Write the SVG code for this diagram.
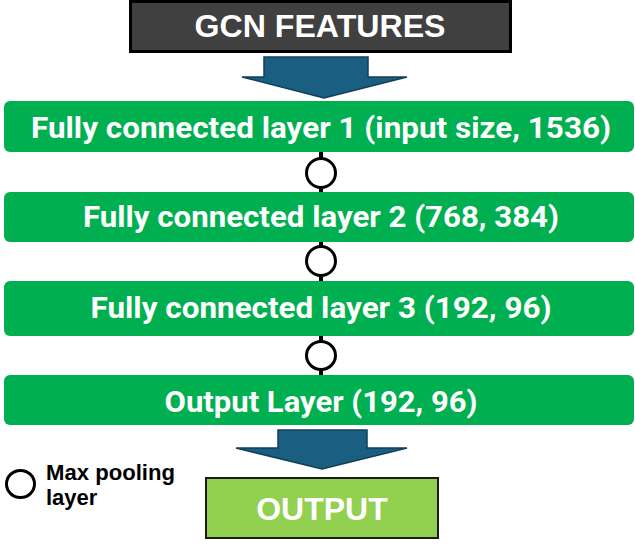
<svg xmlns="http://www.w3.org/2000/svg" width="635" height="545" viewBox="0 0 635 545">
<style>
.layer{fill:#00B050;}
.ltxt{fill:#fff;font-family:Roboto,"Liberation Sans",sans-serif;font-weight:bold;font-size:30px;text-anchor:middle;}
.arrow{fill:#1a5f82;stroke:#123f57;stroke-width:1.5;}
.pool{fill:#fff;stroke:#000;stroke-width:3;}
.stub{stroke:#000;stroke-width:4;}
</style>
<rect width="635" height="545" fill="#fff"/>
<g id="gcn-features">
<rect x="130.5" y="1.5" width="380" height="50" fill="#404040" stroke="#000" stroke-width="3"/>
<text x="320" y="37" fill="#fff" font-family="'Liberation Sans',Arial,sans-serif" font-weight="bold" font-size="31" text-anchor="middle" textLength="251" lengthAdjust="spacingAndGlyphs">GCN FEATURES</text>
</g>
<g id="arrow-in">
<polygon class="arrow" points="264,57 368,57 368,77 407,77 324,98 242,77 264,77"/>
</g>
<g id="fc1">
<rect class="layer" x="4" y="101" width="630" height="51" rx="6"/>
<text class="ltxt" x="321" y="138" textLength="580" lengthAdjust="spacingAndGlyphs">Fully connected layer 1 (input size, 1536)</text>
</g>
<g id="fc2">
<rect class="layer" x="4" y="192" width="630" height="50" rx="6"/>
<text class="ltxt" x="321" y="227" textLength="476" lengthAdjust="spacingAndGlyphs">Fully connected layer 2 (768, 384)</text>
</g>
<g id="fc3">
<rect class="layer" x="4" y="281" width="630" height="55" rx="6"/>
<text class="ltxt" x="321" y="318" textLength="461" lengthAdjust="spacingAndGlyphs">Fully connected layer 3 (192, 96)</text>
</g>
<g id="out-layer">
<rect class="layer" x="4" y="375" width="630" height="50" rx="6"/>
<text class="ltxt" x="321" y="412" textLength="313" lengthAdjust="spacingAndGlyphs">Output Layer (192, 96)</text>
</g>
<g id="connectors">
<line class="stub" x1="321" y1="152" x2="321" y2="159"/>
<line class="stub" x1="321" y1="187" x2="321" y2="192"/>
<line class="stub" x1="321" y1="242" x2="321" y2="247"/>
<line class="stub" x1="321" y1="275" x2="321" y2="281"/>
<line class="stub" x1="321" y1="336" x2="321" y2="342"/>
<line class="stub" x1="321" y1="369" x2="321" y2="375"/>
</g>
<g id="pool1"><ellipse class="pool" cx="321" cy="173" rx="14.5" ry="14.5"/></g>
<g id="pool2"><ellipse class="pool" cx="321" cy="261" rx="14.5" ry="14.5"/></g>
<g id="pool3"><ellipse class="pool" cx="321" cy="355.5" rx="14.5" ry="14"/></g>
<g id="arrow-out">
<polygon class="arrow" points="278,430 367,430 367,448 407,448 322,469 236,448 278,448"/>
</g>
<g id="output">
<rect x="206" y="478" width="232" height="60" fill="#92D050" stroke="#1a1a1a" stroke-width="2"/>
<text x="322" y="520" fill="#fff" font-family="'Liberation Sans',Arial,sans-serif" font-weight="bold" font-size="32" text-anchor="middle">OUTPUT</text>
</g>
<g id="legend">
<ellipse cx="20.5" cy="484" rx="14" ry="13.5" fill="#fff" stroke="#000" stroke-width="3"/>
<text font-family="'Liberation Sans',Arial,sans-serif" font-weight="bold" font-size="22" fill="#000"><tspan x="46" y="480" textLength="129" lengthAdjust="spacingAndGlyphs">Max pooling</tspan><tspan x="46" y="505">layer</tspan></text>
</g>
</svg>
